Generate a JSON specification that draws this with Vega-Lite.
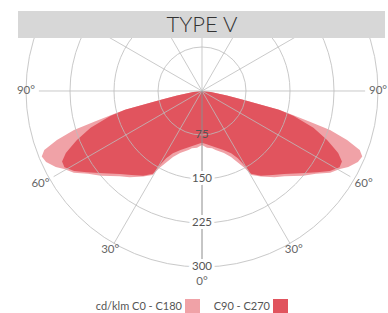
{
  "$schema": "https://vega.github.io/schema/vega-lite/v6.json",
  "width": 388,
  "height": 302,
  "autosize": {"type": "none"},
  "padding": {"left": 0, "right": 0, "top": 11, "bottom": 0},
  "background": "white",
  "config": {"view": {"stroke": null}, "font": "Lato"},
  "datasets": {
    "curves": [
      {"s": "cd/klm C0 - C180", "a": -90, "v": 0},
      {"s": "cd/klm C0 - C180", "a": -84, "v": 15},
      {"s": "cd/klm C0 - C180", "a": -80, "v": 43},
      {"s": "cd/klm C0 - C180", "a": -78, "v": 73},
      {"s": "cd/klm C0 - C180", "a": -76.3, "v": 135},
      {"s": "cd/klm C0 - C180", "a": -75.2, "v": 160},
      {"s": "cd/klm C0 - C180", "a": -74.1, "v": 190},
      {"s": "cd/klm C0 - C180", "a": -73.1, "v": 228},
      {"s": "cd/klm C0 - C180", "a": -71.3, "v": 261},
      {"s": "cd/klm C0 - C180", "a": -69.5, "v": 287},
      {"s": "cd/klm C0 - C180", "a": -67.8, "v": 295},
      {"s": "cd/klm C0 - C180", "a": -65.5, "v": 292},
      {"s": "cd/klm C0 - C180", "a": -62.5, "v": 281},
      {"s": "cd/klm C0 - C180", "a": -60.5, "v": 270},
      {"s": "cd/klm C0 - C180", "a": -57.5, "v": 259},
      {"s": "cd/klm C0 - C180", "a": -54, "v": 240},
      {"s": "cd/klm C0 - C180", "a": -50, "v": 225},
      {"s": "cd/klm C0 - C180", "a": -44, "v": 202},
      {"s": "cd/klm C0 - C180", "a": -40, "v": 192},
      {"s": "cd/klm C0 - C180", "a": -34.5, "v": 177},
      {"s": "cd/klm C0 - C180", "a": -30.5, "v": 166},
      {"s": "cd/klm C0 - C180", "a": -29, "v": 150},
      {"s": "cd/klm C0 - C180", "a": -27, "v": 138},
      {"s": "cd/klm C0 - C180", "a": -23.7, "v": 123},
      {"s": "cd/klm C0 - C180", "a": -19.5, "v": 112},
      {"s": "cd/klm C0 - C180", "a": -13, "v": 103},
      {"s": "cd/klm C0 - C180", "a": -10, "v": 99},
      {"s": "cd/klm C0 - C180", "a": -5, "v": 97},
      {"s": "cd/klm C0 - C180", "a": 0, "v": 92},
      {"s": "cd/klm C0 - C180", "a": 5, "v": 97},
      {"s": "cd/klm C0 - C180", "a": 10, "v": 99},
      {"s": "cd/klm C0 - C180", "a": 13, "v": 103},
      {"s": "cd/klm C0 - C180", "a": 19.5, "v": 112},
      {"s": "cd/klm C0 - C180", "a": 23.7, "v": 123},
      {"s": "cd/klm C0 - C180", "a": 27, "v": 138},
      {"s": "cd/klm C0 - C180", "a": 29, "v": 150},
      {"s": "cd/klm C0 - C180", "a": 30.5, "v": 166},
      {"s": "cd/klm C0 - C180", "a": 34.5, "v": 177},
      {"s": "cd/klm C0 - C180", "a": 40, "v": 192},
      {"s": "cd/klm C0 - C180", "a": 44, "v": 202},
      {"s": "cd/klm C0 - C180", "a": 50, "v": 225},
      {"s": "cd/klm C0 - C180", "a": 54, "v": 240},
      {"s": "cd/klm C0 - C180", "a": 57.5, "v": 259},
      {"s": "cd/klm C0 - C180", "a": 60.5, "v": 270},
      {"s": "cd/klm C0 - C180", "a": 62.5, "v": 281},
      {"s": "cd/klm C0 - C180", "a": 65.5, "v": 292},
      {"s": "cd/klm C0 - C180", "a": 67.8, "v": 295},
      {"s": "cd/klm C0 - C180", "a": 69.5, "v": 287},
      {"s": "cd/klm C0 - C180", "a": 71.3, "v": 261},
      {"s": "cd/klm C0 - C180", "a": 73.1, "v": 228},
      {"s": "cd/klm C0 - C180", "a": 74.1, "v": 190},
      {"s": "cd/klm C0 - C180", "a": 75.2, "v": 160},
      {"s": "cd/klm C0 - C180", "a": 76.3, "v": 135},
      {"s": "cd/klm C0 - C180", "a": 78, "v": 73},
      {"s": "cd/klm C0 - C180", "a": 80, "v": 43},
      {"s": "cd/klm C0 - C180", "a": 84, "v": 15},
      {"s": "cd/klm C0 - C180", "a": 90, "v": 0},
      {"s": "C90 - C270", "a": -90, "v": 0},
      {"s": "C90 - C270", "a": -84, "v": 15},
      {"s": "C90 - C270", "a": -80, "v": 43},
      {"s": "C90 - C270", "a": -78, "v": 73},
      {"s": "C90 - C270", "a": -76.3, "v": 135},
      {"s": "C90 - C270", "a": -74.8, "v": 162},
      {"s": "C90 - C270", "a": -71.7, "v": 200},
      {"s": "C90 - C270", "a": -68.6, "v": 229},
      {"s": "C90 - C270", "a": -67, "v": 242},
      {"s": "C90 - C270", "a": -65.5, "v": 255},
      {"s": "C90 - C270", "a": -63.3, "v": 267},
      {"s": "C90 - C270", "a": -61, "v": 268},
      {"s": "C90 - C270", "a": -58, "v": 257},
      {"s": "C90 - C270", "a": -54.8, "v": 240},
      {"s": "C90 - C270", "a": -50, "v": 218},
      {"s": "C90 - C270", "a": -44.7, "v": 199},
      {"s": "C90 - C270", "a": -40, "v": 187},
      {"s": "C90 - C270", "a": -34.8, "v": 176},
      {"s": "C90 - C270", "a": -30.6, "v": 164},
      {"s": "C90 - C270", "a": -29.6, "v": 145},
      {"s": "C90 - C270", "a": -28, "v": 130},
      {"s": "C90 - C270", "a": -25.1, "v": 117},
      {"s": "C90 - C270", "a": -20, "v": 107},
      {"s": "C90 - C270", "a": -14.7, "v": 100},
      {"s": "C90 - C270", "a": -10, "v": 95},
      {"s": "C90 - C270", "a": -5, "v": 91},
      {"s": "C90 - C270", "a": 0, "v": 88},
      {"s": "C90 - C270", "a": 5, "v": 91},
      {"s": "C90 - C270", "a": 10, "v": 95},
      {"s": "C90 - C270", "a": 14.7, "v": 100},
      {"s": "C90 - C270", "a": 20, "v": 107},
      {"s": "C90 - C270", "a": 25.1, "v": 117},
      {"s": "C90 - C270", "a": 28, "v": 130},
      {"s": "C90 - C270", "a": 29.6, "v": 145},
      {"s": "C90 - C270", "a": 30.6, "v": 164},
      {"s": "C90 - C270", "a": 34.8, "v": 176},
      {"s": "C90 - C270", "a": 40, "v": 187},
      {"s": "C90 - C270", "a": 44.7, "v": 199},
      {"s": "C90 - C270", "a": 50, "v": 218},
      {"s": "C90 - C270", "a": 54.8, "v": 240},
      {"s": "C90 - C270", "a": 58, "v": 257},
      {"s": "C90 - C270", "a": 61, "v": 268},
      {"s": "C90 - C270", "a": 63.3, "v": 267},
      {"s": "C90 - C270", "a": 65.5, "v": 255},
      {"s": "C90 - C270", "a": 67, "v": 242},
      {"s": "C90 - C270", "a": 68.6, "v": 229},
      {"s": "C90 - C270", "a": 71.7, "v": 200},
      {"s": "C90 - C270", "a": 74.8, "v": 162},
      {"s": "C90 - C270", "a": 76.3, "v": 135},
      {"s": "C90 - C270", "a": 78, "v": 73},
      {"s": "C90 - C270", "a": 80, "v": 43},
      {"s": "C90 - C270", "a": 84, "v": 15},
      {"s": "C90 - C270", "a": 90, "v": 0}
    ],
    "rings": [{"r": 75}, {"r": 150}, {"r": 225}, {"r": 300}],
    "spokes": [
      {"a": -180}, {"a": -150}, {"a": -120}, {"a": -90}, {"a": -60}, {"a": -30}, {"a": 0},
      {"a": 30}, {"a": 60}, {"a": 90}, {"a": 120}, {"a": 150}
    ],
    "anglelabels": [
      {"a": -90, "t": "90°"}, {"a": -60, "t": "60°"}, {"a": -30, "t": "30°"}, {"a": 0, "t": "0°"},
      {"a": 30, "t": "30°"}, {"a": 60, "t": "60°"}, {"a": 90, "t": "90°"}
    ],
    "radlabels": [{"v": 75}, {"v": 150}, {"v": 225}, {"v": 300}],
    "heading": [{"t": "TYPE V"}]
  },
  "layer": [
    {
      "data": {"name": "curves"},
      "transform": [
        {"filter": "datum.s == 'cd/klm C0 - C180'"},
        {"calculate": "sin(datum.a*PI/180)*datum.v", "as": "x"},
        {"calculate": "-cos(datum.a*PI/180)*datum.v", "as": "y"}
      ],
      "mark": {"type": "line", "filled": true, "interpolate": "linear", "clip": true},
      "encoding": {
        "x": {"field": "x", "type": "quantitative", "scale": {"domain": [-344.3, 317.0], "nice": false, "zero": false}, "axis": null},
        "y": {"field": "y", "type": "quantitative", "scale": {"domain": [-378.4, 136.36], "nice": false, "zero": false}, "axis": null},
        "order": {"field": "a", "type": "quantitative"},
        "color": {
          "field": "s", "type": "nominal",
          "scale": {"domain": ["cd/klm C0 - C180", "C90 - C270"], "range": ["#f0a2a7", "#e1545e"]},
          "legend": {
            "orient": "none", "legendX": 185, "legendY": 288, "direction": "horizontal",
            "title": null, "symbolType": "square", "symbolSize": 225, "symbolStrokeWidth": 0,
            "labelAlign": "right", "labelOffset": -18,
            "labelFont": "Lato", "labelFontSize": 11, "labelColor": "#555555",
            "columnPadding": 13, "padding": 0
          }
        }
      }
    },
    {
      "data": {"name": "curves"},
      "transform": [
        {"filter": "datum.s == 'C90 - C270'"},
        {"calculate": "sin(datum.a*PI/180)*datum.v", "as": "x"},
        {"calculate": "-cos(datum.a*PI/180)*datum.v", "as": "y"}
      ],
      "mark": {"type": "line", "filled": true, "interpolate": "linear", "clip": true},
      "encoding": {
        "x": {"field": "x", "type": "quantitative", "scale": {"domain": [-344.3, 317.0], "nice": false, "zero": false}, "axis": null},
        "y": {"field": "y", "type": "quantitative", "scale": {"domain": [-378.4, 136.36], "nice": false, "zero": false}, "axis": null},
        "order": {"field": "a", "type": "quantitative"},
        "color": {"field": "s", "type": "nominal"}
      }
    },
    {
      "data": {"name": "rings"},
      "transform": [
        {"calculate": "0", "as": "cx"},
        {"calculate": "0", "as": "cy"}
      ],
      "mark": {"type": "point", "shape": "circle", "filled": false, "stroke": "#bdbdbd", "strokeWidth": 1, "opacity": 0.8, "clip": true},
      "encoding": {
        "x": {"field": "cx", "type": "quantitative", "scale": {"domain": [-344.3, 317.0], "nice": false, "zero": false}, "axis": null},
        "y": {"field": "cy", "type": "quantitative", "scale": {"domain": [-378.4, 136.36], "nice": false, "zero": false}, "axis": null},
        "size": {"field": "r", "type": "quantitative", "scale": {"type": "pow", "exponent": 2, "domain": [0, 300], "range": [0, 123904]}, "legend": null}
      }
    },
    {
      "data": {"name": "spokes"},
      "transform": [
        {"filter": "datum.a != 0"},
        {"calculate": "abs(datum.a) >= 120 ? 400 : (abs(datum.a) == 90 ? 278 : (abs(datum.a) == 60 ? 292 : 300))", "as": "len"},
        {"calculate": "0", "as": "sx"},
        {"calculate": "0", "as": "sy"},
        {"calculate": "sin(datum.a*PI/180)*datum.len", "as": "ex"},
        {"calculate": "-cos(datum.a*PI/180)*datum.len", "as": "ey"}
      ],
      "mark": {"type": "rule", "stroke": "#bdbdbd", "strokeWidth": 1, "opacity": 0.8, "clip": true},
      "encoding": {
        "x": {"field": "sx", "type": "quantitative", "scale": {"domain": [-344.3, 317.0], "nice": false, "zero": false}, "axis": null},
        "y": {"field": "sy", "type": "quantitative", "scale": {"domain": [-378.4, 136.36], "nice": false, "zero": false}, "axis": null},
        "x2": {"field": "ex"},
        "y2": {"field": "ey"}
      }
    },
    {
      "data": {"name": "spokes"},
      "transform": [
        {"filter": "datum.a == 0"},
        {"calculate": "0", "as": "sx"},
        {"calculate": "0", "as": "sy"},
        {"calculate": "sin(datum.a*PI/180)*300", "as": "ex"},
        {"calculate": "-cos(datum.a*PI/180)*300", "as": "ey"}
      ],
      "mark": {"type": "rule", "stroke": "#8c8c8c", "strokeWidth": 1},
      "encoding": {
        "x": {"field": "sx", "type": "quantitative", "scale": {"domain": [-344.3, 317.0], "nice": false, "zero": false}, "axis": null},
        "y": {"field": "sy", "type": "quantitative", "scale": {"domain": [-378.4, 136.36], "nice": false, "zero": false}, "axis": null},
        "x2": {"field": "ex"},
        "y2": {"field": "ey"}
      }
    },
    {
      "data": {"name": "anglelabels"},
      "transform": [
        {"calculate": "abs(datum.a) == 90 ? 300 : (datum.a == 0 ? 325 : (abs(datum.a) == 60 ? 318 : 313))", "as": "lr"},
        {"calculate": "sin(datum.a*PI/180)*datum.lr", "as": "x"},
        {"calculate": "-cos(datum.a*PI/180)*datum.lr", "as": "y"}
      ],
      "mark": {"type": "text", "align": "center", "baseline": "middle", "font": "Lato", "fontSize": 11.5, "color": "#666666"},
      "encoding": {
        "x": {"field": "x", "type": "quantitative", "scale": {"domain": [-344.3, 317.0], "nice": false, "zero": false}, "axis": null},
        "y": {"field": "y", "type": "quantitative", "scale": {"domain": [-378.4, 136.36], "nice": false, "zero": false}, "axis": null},
        "text": {"field": "t", "type": "nominal"}
      }
    },
    {
      "data": {"name": "radlabels"},
      "transform": [
        {"filter": "datum.v > 75"},
        {"calculate": "0", "as": "x"},
        {"calculate": "-datum.v", "as": "y"}
      ],
      "mark": {"type": "text", "align": "center", "baseline": "middle", "font": "Lato", "fontSize": 11.5, "color": "white", "stroke": "white", "strokeWidth": 6},
      "encoding": {
        "x": {"field": "x", "type": "quantitative", "scale": {"domain": [-344.3, 317.0], "nice": false, "zero": false}, "axis": null},
        "y": {"field": "y", "type": "quantitative", "scale": {"domain": [-378.4, 136.36], "nice": false, "zero": false}, "axis": null},
        "text": {"field": "v", "type": "quantitative"}
      }
    },
    {
      "data": {"name": "radlabels"},
      "transform": [
        {"calculate": "0", "as": "x"},
        {"calculate": "-datum.v", "as": "y"}
      ],
      "mark": {"type": "text", "align": "center", "baseline": "middle", "font": "Lato", "fontSize": 11.5, "color": "#555555"},
      "encoding": {
        "x": {"field": "x", "type": "quantitative", "scale": {"domain": [-344.3, 317.0], "nice": false, "zero": false}, "axis": null},
        "y": {"field": "y", "type": "quantitative", "scale": {"domain": [-378.4, 136.36], "nice": false, "zero": false}, "axis": null},
        "text": {"field": "v", "type": "quantitative"}
      }
    },
    {
      "data": {"name": "heading"},
      "transform": [
        {"calculate": "-313.6", "as": "x1"},
        {"calculate": "311.9", "as": "x2"},
        {"calculate": "136.36", "as": "y1"},
        {"calculate": "90.3", "as": "y2"}
      ],
      "mark": {"type": "rect", "color": "#d7d7d7"},
      "encoding": {
        "x": {"field": "x1", "type": "quantitative", "scale": {"domain": [-344.3, 317.0], "nice": false, "zero": false}, "axis": null},
        "x2": {"field": "x2"},
        "y": {"field": "y1", "type": "quantitative", "scale": {"domain": [-378.4, 136.36], "nice": false, "zero": false}, "axis": null},
        "y2": {"field": "y2"}
      }
    },
    {
      "data": {"name": "heading"},
      "transform": [
        {"calculate": "0", "as": "x"},
        {"calculate": "113.3", "as": "y"}
      ],
      "mark": {"type": "text", "align": "center", "baseline": "middle", "font": "Lato", "fontSize": 22, "fontWeight": 300, "color": "#333333"},
      "encoding": {
        "x": {"field": "x", "type": "quantitative", "scale": {"domain": [-344.3, 317.0], "nice": false, "zero": false}, "axis": null},
        "y": {"field": "y", "type": "quantitative", "scale": {"domain": [-378.4, 136.36], "nice": false, "zero": false}, "axis": null},
        "text": {"field": "t", "type": "nominal"}
      }
    }
  ]
}
